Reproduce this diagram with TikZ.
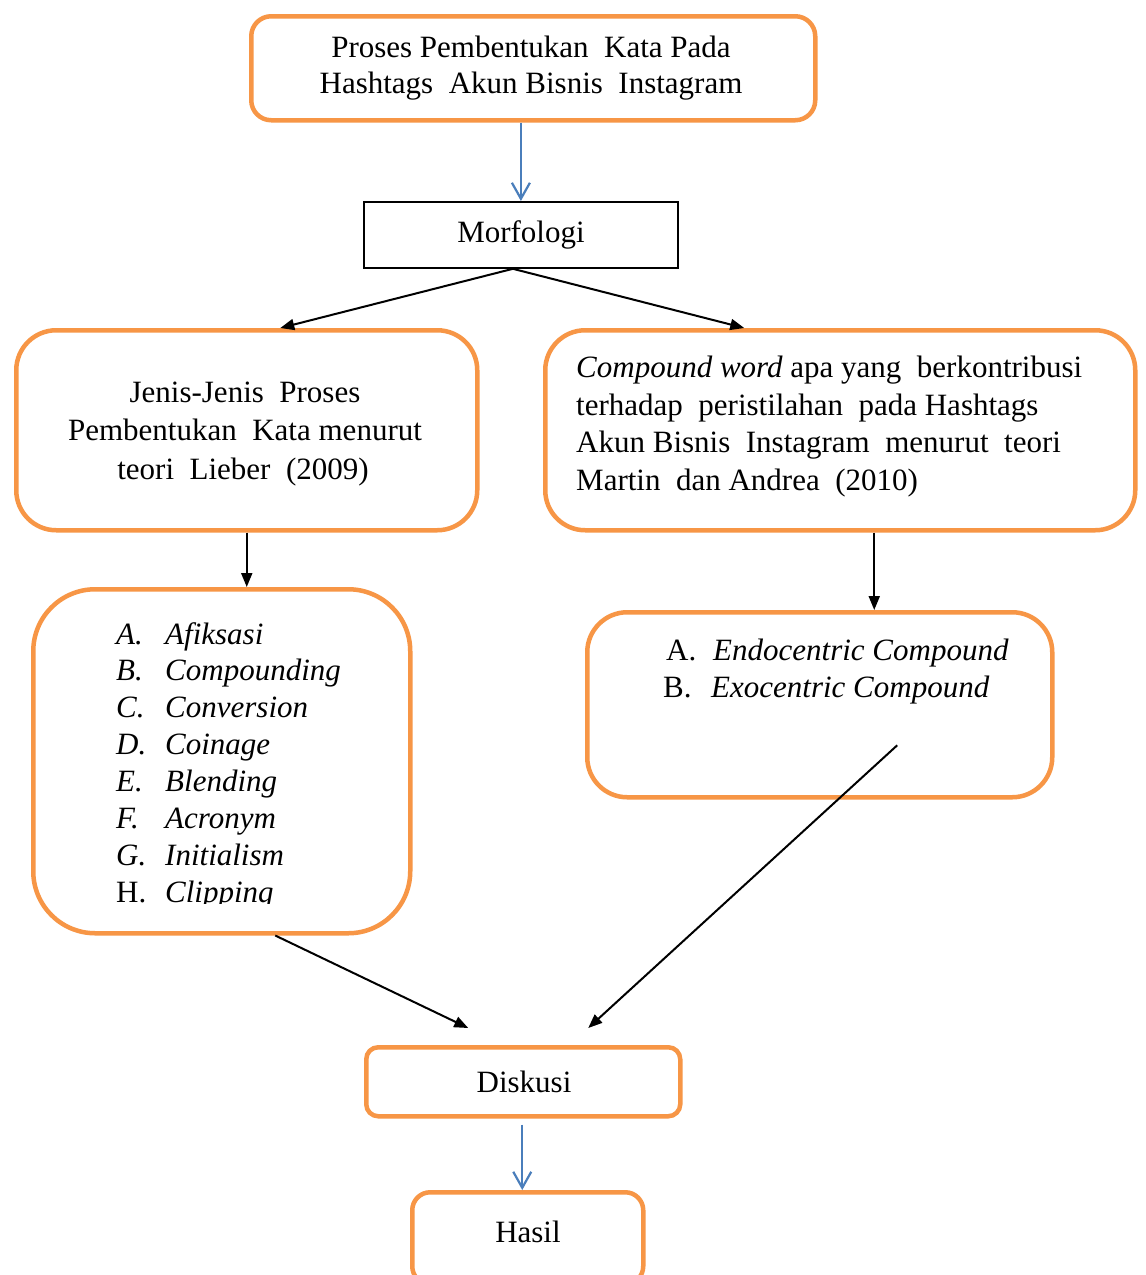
\documentclass[tikz,border=0pt]{standalone}
\usepackage{fontspec}
\setmainfont{Liberation Serif}
\usetikzlibrary{arrows.meta}
\definecolor{orng}{HTML}{F79646}
\definecolor{blu}{HTML}{4A7EBB}
\begin{document}
\begin{tikzpicture}[x=1pt,y=-1pt,
  font=\fontsize{31}{37}\selectfont,
  obox/.style={draw=orng, line width=4.5pt, rounded corners=#1, inner sep=0, anchor=north west, rectangle},
  kbox/.style={draw=black, line width=1.8pt, inner sep=0, anchor=north west, rectangle},
  tc/.style={anchor=base, inner sep=0},
  tl/.style={anchor=base west, inner sep=0},
  blk/.style={draw=black, line width=2pt, -{Triangle[length=14pt,width=11pt]}},
  bluarr/.style={draw=blu, line width=2.2pt, -{Straight Barb[length=16pt,width=18pt]}}]
\useasboundingbox (0,0) rectangle (1146,1275);
\fill[white] (0,0) rectangle (1146,1275);
% boxes
\node[obox=20pt, minimum width=564pt, minimum height=104pt] (top) at (249,14) {};
\node[kbox, minimum width=314pt, minimum height=66pt] (morf) at (363,201) {};
\node[obox=40pt, minimum width=461pt, minimum height=200pt] (lbox) at (14,328) {};
\node[obox=40pt, minimum width=590pt, minimum height=200pt] (rbox) at (543,328) {};
\node[obox=62pt, minimum width=377pt, minimum height=344pt] (llist) at (31,587) {};
\node[obox=40pt, minimum width=465pt, minimum height=185pt] (rlist) at (585,610) {};
\node[obox=12pt, minimum width=314pt, minimum height=69pt] (disk) at (364,1045) {};
\node[obox=18pt, minimum width=231pt, minimum height=92pt] (hasil) at (410,1190) {};
% texts
\node[tc] (t1) at (531,57) {Proses Pembentukan\ \ Kata Pada};
\node[tc] (t2) at (531,93) {Hashtags\ \ Akun Bisnis\ \ Instagram};
\node[tc] (m1) at (521,242) {Morfologi};
\node[tc] (l1) at (245,402) {Jenis-Jenis\ \ Proses};
\node[tc] (l2) at (245,440) {Pembentukan\ \ Kata menurut};
\node[tc] (l3) at (243,479) {teori\ \ Lieber\ \ (2009)};
\node[tl] (r1) at (576,377) {\textit{Compound word} apa yang\ \ berkontribusi};
\node[tl] (r2) at (576,415) {terhadap\ \ peristilahan\ \ pada Hashtags};
\node[tl] (r3) at (576,452) {Akun Bisnis\ \ Instagram\ \ menurut\ \ teori};
\node[tl] (r4) at (576,490) {Martin\ \ dan Andrea\ \ (2010)};
\begin{scope}
\clip (0,0) rectangle (1146,903);
\foreach \n/\l/\w [count=\i from 0] in {la/A./Afiksasi, lb/B./Compounding, lc/C./Conversion, ld/D./Coinage, le/E./Blending, lf/F./Acronym, lg/G./Initialism} {
  \node[tl] (\n l) at (116,644+36.9*\i) {\textit{\l}};
  \node[tl] (\n w) at (165,644+36.9*\i) {\textit{\w}};
}
\node[tl] (lhl) at (116,902) {H.};
\node[tl] (lhw) at (165,902) {\textit{Clipping}};
\end{scope}
\node[tl] (ra) at (666,660) {A.};
\node[tl] (raw) at (713,660) {\textit{Endocentric Compound}};
\node[tl] (rb) at (663,697) {B.};
\node[tl] (rbw) at (711,697) {\textit{Exocentric Compound}};
\node[tc] (dk) at (524,1092) {Diskusi};
\node[tc] (hs) at (528,1242) {Hasil};
% connectors
\coordinate (ms) at ([xshift=-8pt]morf.south);
\coordinate (lt) at ([xshift=33.5pt]lbox.north);
\coordinate (rt) at ([xshift=-96pt]rbox.north);
\coordinate (rs) at ([xshift=34pt]rbox.south);
\coordinate (ls) at ([xshift=53.5pt]llist.south);
\coordinate (rst) at ([shift={(77.5,40.5)}]rlist.center);
\coordinate (d1) at ([shift={(-55,-17)}]disk.north);
\coordinate (d2) at ([shift={(65,-17)}]disk.north);
\coordinate (hb) at ([xshift=-5.5pt]hasil.north);
\draw[bluarr] (morf.north |- top.south) -- (morf.north);
\draw[blk] (ms) -- (lt);
\draw[blk] (ms) -- (rt);
\draw[blk] (lbox.south) -- (lbox.south |- llist.north);
\draw[blk] (rs) -- (rs |- rlist.north);
\draw[blk] (ls) -- (d1);
\draw[blk] (rst) -- (d2);
\draw[bluarr] (disk.south -| hb) ++(0,6) -- (hb);
\end{tikzpicture}
\end{document}
